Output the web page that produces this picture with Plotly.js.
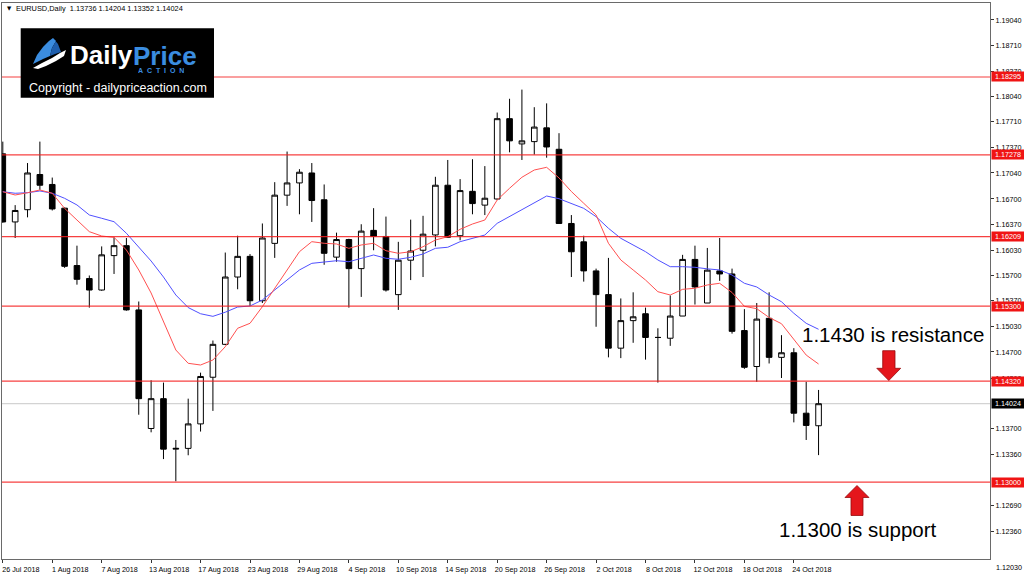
<!DOCTYPE html>
<html>
<head>
<meta charset="utf-8">
<script src="https://cdn.plot.ly/plotly-3.0.1.min.js"></script>
<style>html,body{margin:0;padding:0;background:#fff;}#chart{width:1024px;height:575px;}</style>
</head>
<body>
<div id="chart"></div>
<script>
// ---- data (EURUSD daily) ----
const dates = ["26 Jul 2018","27 Jul 2018","30 Jul 2018","31 Jul 2018","1 Aug 2018","2 Aug 2018","3 Aug 2018","6 Aug 2018","7 Aug 2018","8 Aug 2018","9 Aug 2018","10 Aug 2018","13 Aug 2018","14 Aug 2018","15 Aug 2018","16 Aug 2018","17 Aug 2018","20 Aug 2018","21 Aug 2018","22 Aug 2018","23 Aug 2018","24 Aug 2018","27 Aug 2018","28 Aug 2018","29 Aug 2018","30 Aug 2018","31 Aug 2018","3 Sep 2018","4 Sep 2018","5 Sep 2018","6 Sep 2018","7 Sep 2018","10 Sep 2018","11 Sep 2018","12 Sep 2018","13 Sep 2018","14 Sep 2018","17 Sep 2018","18 Sep 2018","19 Sep 2018","20 Sep 2018","21 Sep 2018","24 Sep 2018","25 Sep 2018","26 Sep 2018","27 Sep 2018","28 Sep 2018","1 Oct 2018","2 Oct 2018","3 Oct 2018","4 Oct 2018","5 Oct 2018","8 Oct 2018","9 Oct 2018","10 Oct 2018","11 Oct 2018","12 Oct 2018","15 Oct 2018","16 Oct 2018","17 Oct 2018","18 Oct 2018","19 Oct 2018","22 Oct 2018","23 Oct 2018","24 Oct 2018","25 Oct 2018","26 Oct 2018"];

const open  = [1.1729,1.1640,1.1656,1.1702,1.1689,1.1658,1.1583,1.1566,1.1551,1.1596,1.1609,1.1525,1.1370,1.1409,1.1343,1.1344,1.1376,1.1437,1.1480,1.1568,1.1595,1.1537,1.1612,1.1675,1.1691,1.1704,1.1669,1.1594,1.1617,1.1579,1.1629,1.1621,1.1545,1.1590,1.1603,1.1623,1.1688,1.1622,1.1680,1.1662,1.1670,1.1775,1.1742,1.1745,1.1763,1.1735,1.1638,1.1614,1.1576,1.1545,1.1475,1.1511,1.1520,1.1489,1.1488,1.1517,1.1591,1.1534,1.1576,1.1572,1.1498,1.1451,1.1514,1.1463,1.1469,1.1390,1.13736];
const high  = [1.1745,1.1662,1.1717,1.1745,1.1698,1.1659,1.1609,1.1570,1.1608,1.1620,1.1619,1.1536,1.1433,1.1430,1.1355,1.1409,1.1443,1.1485,1.1600,1.1622,1.1598,1.1638,1.1692,1.1732,1.1709,1.1717,1.1689,1.1626,1.1618,1.1637,1.1658,1.1647,1.1614,1.1643,1.1648,1.1699,1.1721,1.1696,1.1722,1.1713,1.1783,1.1801,1.1813,1.1790,1.1795,1.1756,1.1649,1.1622,1.1579,1.1593,1.1540,1.1548,1.1528,1.1501,1.1544,1.1597,1.1609,1.1606,1.1619,1.1579,1.1526,1.1534,1.1548,1.1492,1.1475,1.1431,1.14204];
const low   = [1.1639,1.1619,1.1646,1.1682,1.1655,1.1580,1.1558,1.1528,1.1550,1.1572,1.1524,1.1388,1.1365,1.1330,1.1301,1.1335,1.1366,1.1393,1.1479,1.1552,1.1530,1.1534,1.1593,1.1661,1.1650,1.1640,1.1584,1.1588,1.1528,1.1542,1.1603,1.1549,1.1525,1.1564,1.1568,1.1608,1.1619,1.1616,1.1650,1.1649,1.1669,1.1731,1.1721,1.1728,1.1724,1.1638,1.1568,1.1562,1.1503,1.1463,1.1462,1.1482,1.1460,1.1430,1.1478,1.1517,1.1532,1.1534,1.1563,1.1494,1.1448,1.1431,1.1455,1.1436,1.1378,1.1355,1.13352];
const close = [1.1640,1.1655,1.1704,1.1688,1.1657,1.1582,1.1565,1.1551,1.1597,1.1609,1.1525,1.1409,1.1409,1.1343,1.1344,1.1376,1.1438,1.1480,1.1568,1.1595,1.1537,1.1619,1.1675,1.1691,1.1705,1.1668,1.1599,1.1617,1.1579,1.1628,1.1621,1.1551,1.1590,1.1602,1.1624,1.1688,1.1620,1.1681,1.1664,1.1671,1.1775,1.1746,1.1746,1.1764,1.1738,1.1638,1.1601,1.1576,1.1545,1.1475,1.1511,1.1516,1.1489,1.1489,1.1517,1.1591,1.1555,1.1577,1.1572,1.1497,1.1450,1.1513,1.1463,1.1469,1.1390,1.1374,1.14024];

const maFast = [1.16795,1.16752,1.16782,1.16818,1.16775,1.16578,1.16425,1.16273,1.16216,1.16199,1.16033,1.15772,1.15471,1.15092,1.14726,1.14552,1.14530,1.14595,1.14769,1.15010,1.15075,1.15292,1.15533,1.15772,1.16011,1.16142,1.16121,1.16112,1.16055,1.16099,1.16121,1.16024,1.15990,1.16011,1.16076,1.16164,1.16207,1.16304,1.16373,1.16425,1.16687,1.16840,1.16984,1.17079,1.17114,1.16975,1.16798,1.16644,1.16491,1.16121,1.15903,1.15772,1.15641,1.15488,1.15445,1.15519,1.15533,1.15576,1.15598,1.15478,1.15297,1.15266,1.15151,1.15070,1.14870,1.14660,1.14543];
const maSlow = [1.16795,1.16775,1.16782,1.16805,1.16775,1.16709,1.16622,1.16491,1.16448,1.16403,1.16252,1.16076,1.15889,1.15680,1.15445,1.15281,1.15200,1.15166,1.15220,1.15288,1.15301,1.15380,1.15510,1.15641,1.15772,1.15859,1.15880,1.15893,1.15880,1.15925,1.15968,1.15925,1.15912,1.15938,1.15981,1.16055,1.16069,1.16142,1.16186,1.16229,1.16382,1.16469,1.16556,1.16644,1.16739,1.16704,1.16637,1.16578,1.16469,1.16317,1.16186,1.16099,1.16011,1.15903,1.15815,1.15815,1.15807,1.15787,1.15772,1.15706,1.15598,1.15550,1.15445,1.15357,1.15206,1.15075,1.14997];

const levels = [1.18295,1.17278,1.16209,1.15300,1.14320,1.13000];
const lastPrice = 1.14024;
const priceTicks = [1.19040,1.18710,1.18370,1.18040,1.17710,1.17370,1.17040,1.16700,1.16370,1.16030,1.15700,1.15370,1.15030,1.14700,1.14360,1.13700,1.13360,1.12690,1.12360];
const bottomTick = "1.12030";
const header = "EURUSD,Daily  1.13736 1.14204 1.13352 1.14024";
const resistanceText = "1.1430 is resistance";
const supportText = "1.1300 is support";

// ---- geometry helpers (plot frame in pixels) ----
const W=1024,H=575,PL=2,PR=990,PT=3,PB=559;
const px = x => (x-PL)/(PR-PL);
const py = y => (PB-y)/(PB-PT);
function pathPx(pts){ return 'M ' + pts.map(p=>px(p[0]).toFixed(5)+','+py(p[1]).toFixed(5)).join(' L ') + ' Z'; }

const idx = dates.map((d,i)=>i);
const tickIdx = idx.filter(i=>i%4===0);
const FONT = 'Liberation Sans, Arial, sans-serif';

const traces = [
  {type:'scatter',mode:'lines',x:idx,y:maSlow,line:{color:'rgb(80,80,255)',width:1},hoverinfo:'skip'},
  {type:'scatter',mode:'lines',x:idx,y:maFast,line:{color:'rgb(255,80,80)',width:1},hoverinfo:'skip'},
  {type:'candlestick',x:idx,open:open,high:high,low:low,close:close,
   increasing:{line:{color:'#000',width:1},fillcolor:'#fff'},
   decreasing:{line:{color:'#000',width:1},fillcolor:'#000'},
   whiskerwidth:0,hoverinfo:'skip'}
];

const shapes = [];
shapes.push({type:'line',xref:'paper',x0:0,x1:1,yref:'y',y0:lastPrice,y1:lastPrice,line:{color:'#c8c8c8',width:1},layer:'below'});
levels.forEach(v=>shapes.push({type:'line',xref:'paper',x0:0,x1:1,yref:'y',y0:v,y1:v,line:{color:'rgba(245,30,30,0.85)',width:1.2}}));
// logo box
shapes.push({type:'rect',xref:'paper',yref:'paper',x0:px(20.7),x1:px(214),y0:py(97.7),y1:py(28.3),fillcolor:'#000',line:{width:0}});
// logo icon (blue fin + white swoosh)
shapes.push({type:'path',xref:'paper',yref:'paper',path:pathPx([[33,64],[37,55],[43,47],[49,41],[53,38],[56,41],[52,48],[50,56],[43,59]]),fillcolor:'#3b8de0',line:{width:0}});
shapes.push({type:'path',xref:'paper',yref:'paper',path:pathPx([[53,38],[58,44],[61,52],[55,54],[50,56],[52,48],[56,41]]),fillcolor:'#1f5fae',line:{width:0}});
shapes.push({type:'path',xref:'paper',yref:'paper',path:pathPx([[33,68],[42,63],[52,58],[60,53],[66,50],[64,56],[56,61],[46,66],[38,69]]),fillcolor:'#ffffff',line:{width:0}});
// arrows
shapes.push({type:'path',xref:'paper',yref:'paper',path:pathPx([[882.7,350.7],[895,350.7],[895,368.3],[900.7,368.3],[888.8,380.5],[876.8,368.3],[882.7,368.3]]),fillcolor:'rgb(228,22,28)',line:{color:'rgb(150,10,12)',width:0.8}});
shapes.push({type:'path',xref:'paper',yref:'paper',path:pathPx([[851,515.5],[863,515.5],[863,497.5],[869,497.5],[857,485.5],[845,497.5],[851,497.5]]),fillcolor:'rgb(228,22,28)',line:{color:'rgb(150,10,12)',width:0.8}});

const ann = [];
levels.forEach(v=>ann.push({xref:'paper',yref:'y',x:1,y:v,xanchor:'left',yanchor:'middle',xshift:1,text:v.toFixed(5),showarrow:false,
  bgcolor:'rgb(240,20,20)',font:{family:FONT,size:7.2,color:'#fff'},width:32,height:9,borderpad:0}));
ann.push({xref:'paper',yref:'y',x:1,y:lastPrice,xanchor:'left',yanchor:'middle',xshift:1,text:lastPrice.toFixed(5),showarrow:false,
  bgcolor:'#000',font:{family:FONT,size:7.2,color:'#fff'},width:32,height:9,borderpad:0});
ann.push({xref:'paper',yref:'paper',x:1,y:py(567),xanchor:'left',yanchor:'middle',xshift:4,text:bottomTick,showarrow:false,font:{family:FONT,size:7.2,color:'#000'}});
// header
ann.push({xref:'paper',yref:'paper',x:px(4.5),y:py(8.3),xanchor:'left',yanchor:'middle',text:'▼',showarrow:false,font:{family:'DejaVu Sans',size:5.5,color:'#000'}});
ann.push({xref:'paper',yref:'paper',x:px(13.5),y:py(8.3),xanchor:'left',yanchor:'middle',text:header.replace('  ','&nbsp; '),showarrow:false,font:{family:FONT,size:7.4,color:'#000'}});
// logo texts
ann.push({xref:'paper',yref:'paper',x:px(69),y:py(55.5),xanchor:'left',yanchor:'middle',showarrow:false,borderpad:0,
  text:'<b>Daily</b>',font:{family:FONT,size:26,color:'#fff'}});
ann.push({xref:'paper',yref:'paper',x:px(132),y:py(55.5),xanchor:'left',yanchor:'middle',showarrow:false,height:19,borderpad:0,
  text:'<b>Price</b>',font:{family:FONT,size:26,color:'#3b8de0'}});
ann.push({xref:'paper',yref:'paper',x:px(137),y:py(69.5),xanchor:'left',yanchor:'middle',showarrow:false,height:6,borderpad:0,
  text:'<b>A&nbsp; C&nbsp; T&nbsp; I&nbsp; O&nbsp; N</b>',font:{family:FONT,size:7,color:'#3b8de0'}});
ann.push({xref:'paper',yref:'paper',x:px(27),y:py(87.5),xanchor:'left',yanchor:'middle',showarrow:false,
  text:'Copyright - dailypriceaction.com',font:{family:FONT,size:12.5,color:'#fff'}});
// commentary
ann.push({xref:'paper',yref:'paper',x:px(800),y:py(334),xanchor:'left',yanchor:'middle',showarrow:false,text:resistanceText,font:{family:FONT,size:20.5,color:'#000'}});
ann.push({xref:'paper',yref:'paper',x:px(777),y:py(529),xanchor:'left',yanchor:'middle',showarrow:false,text:supportText,font:{family:FONT,size:20.5,color:'#000'}});

const layout = {
  width:W,height:H,paper_bgcolor:'#fff',plot_bgcolor:'#fff',showlegend:false,
  margin:{l:PL,r:W-PR,t:PT,b:H-PB,pad:0},
  font:{family:FONT,size:7.2,color:'#000'},
  xaxis:{range:[(PL-2.8)/12.36,(PR-2.8)/12.36],rangeslider:{visible:false},showgrid:false,zeroline:false,
    showline:true,mirror:true,linecolor:'#6a6a6a',linewidth:1,
    tickmode:'array',tickvals:tickIdx,ticktext:tickIdx.map(i=>dates[i]),ticks:'outside',ticklen:3,tickcolor:'#333',
    ticklabelshift:18,tickfont:{family:FONT,size:7.2,color:'#000'},fixedrange:true},
  yaxis:{range:[1.11994,1.19262],side:'right',showgrid:false,zeroline:false,
    showline:true,mirror:true,linecolor:'#6a6a6a',linewidth:1,
    tickmode:'array',tickvals:priceTicks,ticktext:priceTicks.map(v=>v.toFixed(5)),ticks:'outside',ticklen:3,tickcolor:'#333',
    tickfont:{family:FONT,size:7.2,color:'#000'},fixedrange:true},
  boxgap:0.35,
  shapes:shapes,annotations:ann
};
Plotly.newPlot('chart',traces,layout,{staticPlot:true,displayModeBar:false});
</script>
</body>
</html>
